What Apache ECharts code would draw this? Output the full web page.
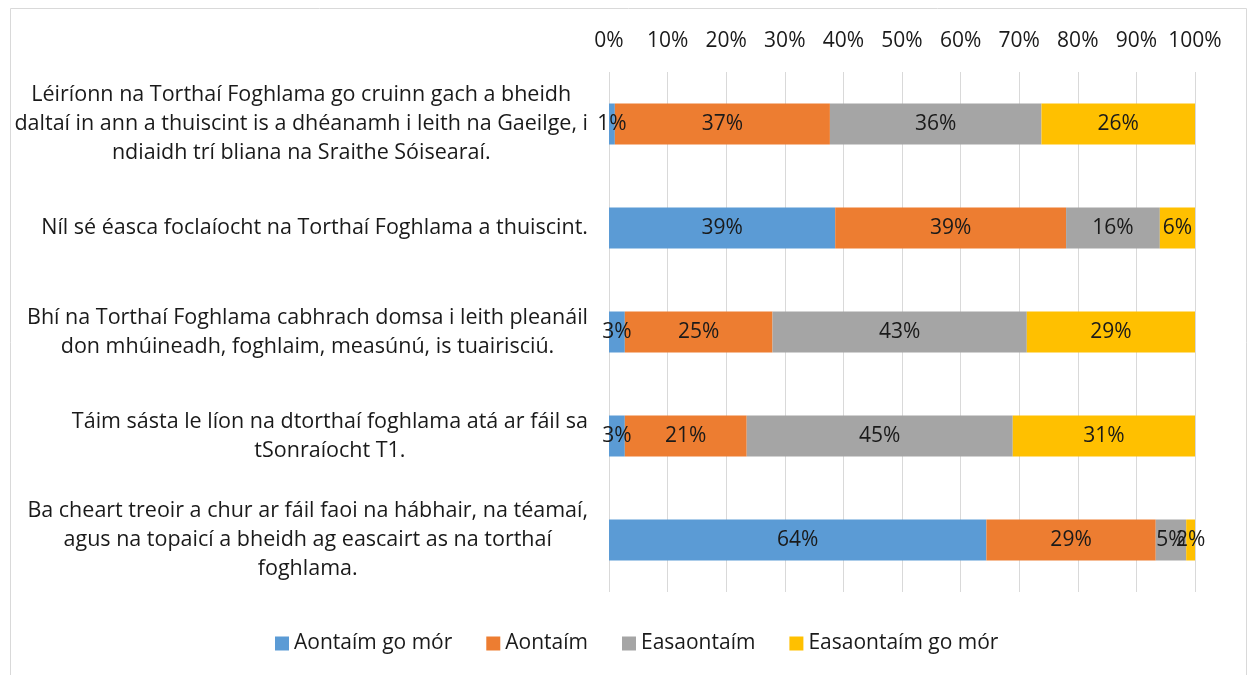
<!DOCTYPE html>
<html>
<head>
<meta charset="utf-8">
<script src="https://cdn.jsdelivr.net/npm/echarts@6/dist/echarts.min.js"></script>
<style>
  html, body { margin: 0; padding: 0; background: #fff; }
  #chart { width: 1248px; height: 675px; }
</style>
</head>
<body>
<div id="chart"></div>
<script>
// statements, top to bottom (line breaks as in the original)
const categories = [
  'Léiríonn na Torthaí Foghlama go cruinn gach a bheidh\ndaltaí in ann a thuiscint is a dhéanamh i leith na Gaeilge, i\nndiaidh trí bliana na Sraithe Sóisearaí.',
  'Níl sé éasca foclaíocht na Torthaí Foghlama a thuiscint.',
  'Bhí na Torthaí Foghlama cabhrach domsa i leith pleanáil\ndon mhúineadh, foghlaim, measúnú, is tuairisciú.',
  'Táim sásta le líon na dtorthaí foghlama atá ar fáil sa\ntSonraíocht T1.',
  'Ba cheart treoir a chur ar fáil faoi na hábhair, na téamaí,\nagus na topaicí a bheidh ag eascairt as na torthaí\nfoghlama.'
];
const seriesNames = ['Aontaím go mór', 'Aontaím', 'Easaontaím', 'Easaontaím go mór'];
const aontaimGoMor = [1.0, 38.6, 2.7, 2.7, 64.4];
const aontaim = [36.7, 39.4, 25.2, 20.8, 28.9];
const easaontaim = [36.1, 16.0, 43.4, 45.4, 5.2];
const easaontaimGoMor = [26.2, 6.0, 28.7, 31.1, 1.5];
const colors = ['#5B9BD5', '#ED7D31', '#A5A5A5', '#FFC000'];

const FONT = '"Open Sans", "Noto Sans", sans-serif';
const TEXT = '#1a1a1a';
const SIZE = 21;

const chart = echarts.init(document.getElementById('chart'));

function makeSeries(name, values, i) {
  return {
    name: name,
    type: 'bar',
    stack: 'total',
    barWidth: 41,
    data: values,
    itemStyle: { color: colors[i] },
    label: {
      show: true,
      position: 'inside',
      color: TEXT,
      fontFamily: FONT,
      fontSize: SIZE,
      formatter: p => Math.round(p.value) + '%'
    },
    emphasis: { disabled: true }
  };
}

chart.setOption({
  animation: false,
  textStyle: { fontFamily: FONT },
  graphic: [{
    type: 'rect',
    shape: { x: 10.5, y: 8.5, width: 1236, height: 680 },
    style: { fill: 'none', stroke: '#d9d9d9', lineWidth: 1 },
    silent: true
  }],
  legend: {
    top: 628,
    left: 270,
    itemWidth: 14,
    itemHeight: 14,
    itemGap: 34,
    icon: 'rect',
    textStyle: { color: TEXT, fontSize: SIZE, fontFamily: FONT },
    data: seriesNames
  },
  grid: { left: 609, right: 53, top: 72, bottom: 83 },
  xAxis: {
    type: 'value',
    position: 'top',
    min: 0,
    max: 100,
    interval: 10,
    axisLine: { show: false },
    axisTick: { show: false },
    axisLabel: {
      formatter: '{value}%',
      color: TEXT,
      fontSize: SIZE,
      fontFamily: FONT,
      margin: 20
    },
    splitLine: { lineStyle: { color: '#d9d9d9', width: 1 } }
  },
  yAxis: {
    type: 'category',
    inverse: true,
    data: categories,
    axisLine: { show: false },
    axisTick: { show: false },
    axisLabel: {
      margin: 21,
      align: 'right',
      formatter: v => v.split('\n').map(l => '{c|' + l + '}').join('\n'),
      rich: {
        c: { align: 'center', lineHeight: 29, fontSize: 21.5, fontFamily: FONT, color: TEXT }
      }
    }
  },
  series: [
    makeSeries(seriesNames[0], aontaimGoMor, 0),
    makeSeries(seriesNames[1], aontaim, 1),
    makeSeries(seriesNames[2], easaontaim, 2),
    makeSeries(seriesNames[3], easaontaimGoMor, 3)
  ]
});
</script>
</body>
</html>
